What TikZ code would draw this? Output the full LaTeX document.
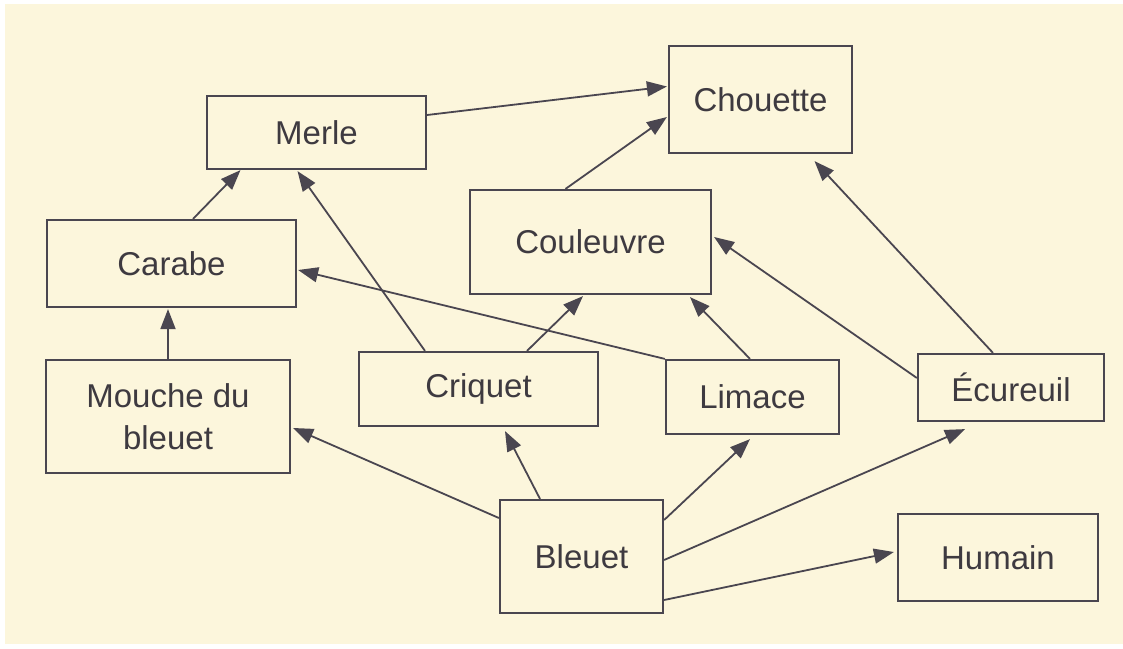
\documentclass[tikz,border=0pt]{standalone}
\usepackage{fontspec}
\setmainfont{Liberation Sans}
\usetikzlibrary{arrows.meta,calc}
\definecolor{paper}{HTML}{FCF6DC}
\definecolor{ink}{HTML}{4A4650}
\definecolor{txt}{HTML}{3E3A40}
\tikzset{
  box/.style={draw=ink, line width=2.2pt, inner sep=0pt, align=center,
    text=txt, font=\fontsize{33}{38}\selectfont},
  link/.style={draw=ink, line width=1.8pt,
    -{Triangle[length=20pt,width=15pt]}, color=ink}
}
\begin{document}
\begin{tikzpicture}[x=1pt,y=-1pt]
\useasboundingbox (0,0) rectangle (1123,648);
\fill[white] (0,0) rectangle (1123,648);
\fill[paper] (5,4) rectangle (1123,644);

\node[box, minimum width=219pt, minimum height=73pt] (merle) at (316.5,132.5) {Merle};
\node[box, minimum width=183pt, minimum height=107pt] (chouette) at (760.5,99.5) {Chouette};
\node[box, minimum width=249pt, minimum height=87pt] (carabe) at (171.5,263.5) {Carabe};
\node[box, minimum width=241pt, minimum height=104pt] (couleuvre) at (590.5,242) {Couleuvre};
\node[box, minimum width=244pt, minimum height=113pt] (mouche) at (168,416.5) {Mouche du\\[4pt]bleuet};
\node[box, minimum width=239pt, minimum height=74pt] (criquet) at (478.5,389) {Criquet};
\node[box, minimum width=173pt, minimum height=74pt] (limace) at (752.5,397) {Limace};
\node[box, minimum width=186pt, minimum height=67pt] (ecureuil) at (1011,387.5) {Écureuil};
\node[box, minimum width=163pt, minimum height=113pt] (bleuet) at (581.5,556.5) {Bleuet};
\node[box, minimum width=200pt, minimum height=87pt] (humain) at (998,557.5) {Humain};

\draw[link] ($(merle.east)+(0,-17.5)$) -- ($(chouette.west)+(-1,-13)$);
\draw[link] ($(couleuvre.north)+(-25,0)$) -- ($(chouette.west)+(-1,17.5)$);
\draw[link] ($(ecureuil.north)+(-18,0)$) -- ($(chouette.south)+(54,7)$);
\draw[link] ($(carabe.north)+(21.5,0)$) -- ($(merle.south)+(-76,0)$);
\draw[link] ($(criquet.north)+(-53.5,0)$) -- ($(merle.south)+(-19,1)$);
\draw[link] (limace.north west) -- ($(carabe.east)+(1,6.5)$);
\draw[link] ($(criquet.north)+(48.5,0)$) -- ($(couleuvre.south)+(-7.5,1)$);
\draw[link] ($(limace.north)+(-2.5,0)$) -- ($(couleuvre.south)+(99.5,2)$);
\draw[link] ($(ecureuil.west)+(0,-9.5)$) -- ($(couleuvre.east)+(2,-5)$);
\draw[link] (mouche.north) -- ($(carabe.south)+(-3.5,1)$);
\draw[link] ($(bleuet.west)+(0,-38.5)$) -- ($(mouche.east)+(2,11.5)$);
\draw[link] ($(bleuet.north)+(-41.5,0)$) -- ($(criquet.south)+(26.5,4)$);
\draw[link] ($(bleuet.east)+(0,-36.5)$) -- ($(limace.south)+(-2.5,4)$);
\draw[link] ($(bleuet.east)+(0,3.5)$) -- ($(ecureuil.south)+(-46,7)$);
\draw[link] ($(bleuet.east)+(0,43.5)$) -- ($(humain.west)+(-3,-5.5)$);
\end{tikzpicture}
\end{document}
